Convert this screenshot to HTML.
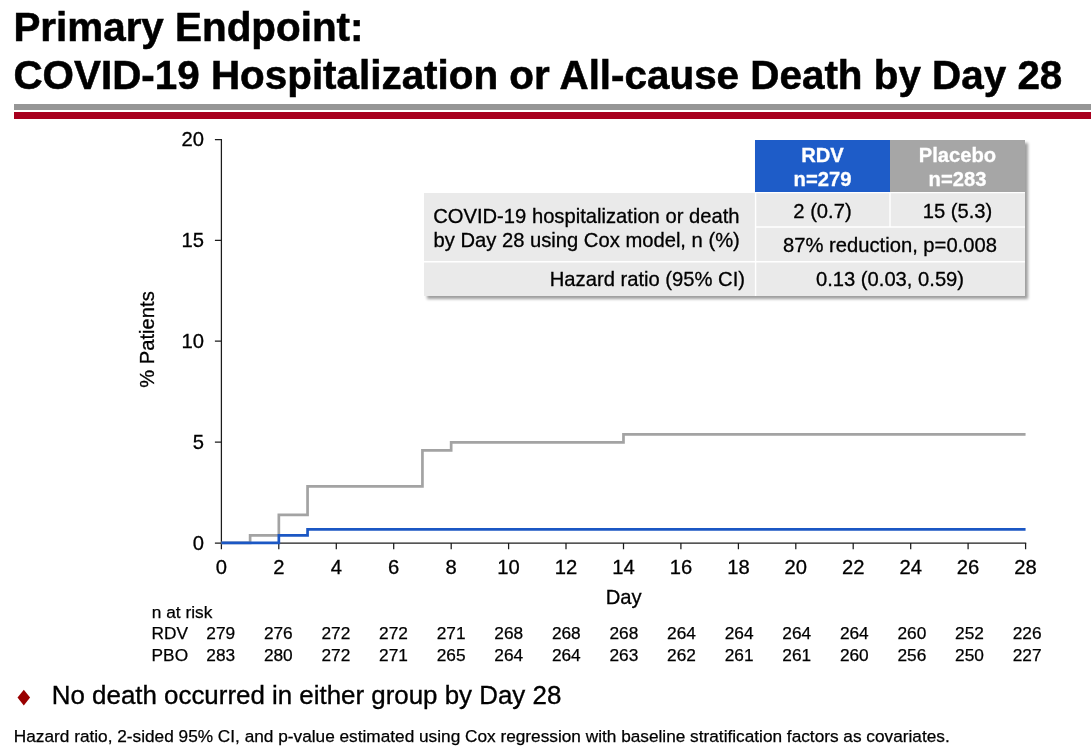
<!DOCTYPE html>
<html><head><meta charset="utf-8">
<style>
html,body{margin:0;padding:0;background:#fff;}
body{width:1091px;height:756px;position:relative;overflow:hidden;font-family:"Liberation Sans",sans-serif;color:#000;}
.abs{position:absolute;white-space:nowrap;}
#title{left:13.4px;top:2.6px;font-size:40.4px;font-weight:bold;line-height:48px;-webkit-text-stroke:0.55px #000;}
#rule1{left:14px;top:104px;width:1077px;height:6px;background:#969696;}
#rule2{left:14px;top:112px;width:1077px;height:7px;background:#a8001e;}
svg{position:absolute;left:0;top:0;}
</style></head><body>
<div id="title" class="abs">Primary Endpoint:<br>COVID-19 Hospitalization or All-cause Death by Day 28</div>
<div id="rule1" class="abs"></div><div id="rule2" class="abs"></div>

<svg width="1091" height="756" viewBox="0 0 1091 756" font-family="Liberation Sans, sans-serif">
<defs><filter id="sh" x="-5%" y="-10%" width="110%" height="125%"><feGaussianBlur stdDeviation="1.5"/></filter></defs>
<g id="table">
<path d="M757 143H1028V299H427V196H757Z" fill="#000" opacity="0.38" filter="url(#sh)"/>
<rect x="755" y="140" width="135" height="53" fill="#1e5cc8"/>
<rect x="890" y="140" width="135" height="53" fill="#a6a6a6"/>
<rect x="424" y="193" width="601" height="103" fill="#eaeaea"/>
<g stroke="#fff" stroke-width="1.4">
<line x1="755" y1="192.6" x2="1025" y2="192.6"/>
<line x1="755" y1="227" x2="1025" y2="227"/>
<line x1="424" y1="261.7" x2="1025" y2="261.7"/>
<line x1="755.6" y1="192" x2="755.6" y2="296"/>
<line x1="890" y1="193" x2="890" y2="227"/>
</g>
<g font-size="20.2" font-weight="bold" fill="#fff" stroke="#fff" stroke-width="0.3" text-anchor="middle">
<text x="822.5" y="161.9">RDV</text><text x="822.5" y="185.9">n=279</text>
<text x="957.5" y="161.9">Placebo</text><text x="957.5" y="185.9">n=283</text>
</g>
<g font-size="20.2" fill="#000" stroke="#000" stroke-width="0.3">
<text x="433.2" y="222.5">COVID-19 hospitalization or death</text>
<text x="433.5" y="247.2">by Day 28 using Cox model, n (%)</text>
<text x="745" y="286.4" text-anchor="end">Hazard ratio (95% CI)</text>
<text x="822.5" y="217.7" text-anchor="middle">2 (0.7)</text>
<text x="957.5" y="217.7" text-anchor="middle">15 (5.3)</text>
<text x="890" y="251.6" text-anchor="middle">87% reduction, p=0.008</text>
<text x="890" y="286.4" text-anchor="middle">0.13 (0.03, 0.59)</text>
</g>
</g>
<g stroke="#1c1c1c" stroke-width="1.25" fill="none">
<path d="M221.4 138.9V549.3"/><path d="M214.9 543.15H1026.2" stroke-width="1.4"/>
<path d="M214.9 442.1H221.4M214.9 341.2H221.4M214.9 240.4H221.4M214.9 139.5H221.4"/>
<path d="M278.8 543.0V549.3M336.3 543.0V549.3M393.7 543.0V549.3M451.2 543.0V549.3M508.6 543.0V549.3M566.0 543.0V549.3M623.5 543.0V549.3M680.9 543.0V549.3M738.4 543.0V549.3M795.8 543.0V549.3M853.2 543.0V549.3M910.7 543.0V549.3M968.1 543.0V549.3M1025.6 543.0V549.3"/>
</g>
<path d="M221.40 542.90L250.12 542.90L250.12 535.40L278.84 535.40L278.84 514.90L307.56 514.90L307.56 486.45L422.44 486.45L422.44 450.45L451.16 450.45L451.16 442.30L623.48 442.30L623.48 434.40L1025.56 434.40" fill="none" stroke="#a3a3a3" stroke-width="2.7"/>
<path d="M221.40 542.90L278.84 542.90L278.84 535.30L307.56 535.30L307.56 529.30L1025.56 529.30" fill="none" stroke="#1b57c4" stroke-width="2.7"/>
<g font-size="20.2" text-anchor="end" stroke="#000" stroke-width="0.3"><text x="204" y="146.2">20</text><text x="204" y="247.1">15</text><text x="204" y="348.0">10</text><text x="204" y="448.9">5</text><text x="204" y="549.8">0</text></g>
<g font-size="20.2" text-anchor="middle" stroke="#000" stroke-width="0.3"><text x="221.4" y="573.8">0</text><text x="278.8" y="573.8">2</text><text x="336.3" y="573.8">4</text><text x="393.7" y="573.8">6</text><text x="451.2" y="573.8">8</text><text x="508.6" y="573.8">10</text><text x="566.0" y="573.8">12</text><text x="623.5" y="573.8">14</text><text x="680.9" y="573.8">16</text><text x="738.4" y="573.8">18</text><text x="795.8" y="573.8">20</text><text x="853.2" y="573.8">22</text><text x="910.7" y="573.8">24</text><text x="968.1" y="573.8">26</text><text x="1025.6" y="573.8">28</text></g>
<text x="623.6" y="604.4" font-size="20.2" text-anchor="middle" stroke="#000" stroke-width="0.3">Day</text>
<text transform="translate(153.6,339.5) rotate(-90)" font-size="20.2" text-anchor="middle" stroke="#000" stroke-width="0.3">% Patients</text>
<g font-size="17.3" stroke="#000" stroke-width="0.25">
<text x="151.8" y="617.5">n at risk</text><text x="151.6" y="638.6">RDV</text><text x="151.6" y="660.6">PBO</text>
<g text-anchor="middle"><text x="220.7" y="638.6">279</text><text x="278.3" y="638.6">276</text><text x="335.9" y="638.6">272</text><text x="393.5" y="638.6">272</text><text x="451.1" y="638.6">271</text><text x="508.7" y="638.6">268</text><text x="566.3" y="638.6">268</text><text x="623.9" y="638.6">268</text><text x="681.5" y="638.6">264</text><text x="739.1" y="638.6">264</text><text x="796.7" y="638.6">264</text><text x="854.3" y="638.6">264</text><text x="911.9" y="638.6">260</text><text x="969.5" y="638.6">252</text><text x="1027.1" y="638.6">226</text><text x="220.7" y="660.6">283</text><text x="278.3" y="660.6">280</text><text x="335.9" y="660.6">272</text><text x="393.5" y="660.6">271</text><text x="451.1" y="660.6">265</text><text x="508.7" y="660.6">264</text><text x="566.3" y="660.6">264</text><text x="623.9" y="660.6">263</text><text x="681.5" y="660.6">262</text><text x="739.1" y="660.6">261</text><text x="796.7" y="660.6">261</text><text x="854.3" y="660.6">260</text><text x="911.9" y="660.6">256</text><text x="969.5" y="660.6">250</text><text x="1027.1" y="660.6">227</text></g>
</g>
<polygon points="17.5,697.6 23.8,689.8 30.1,697.6 23.8,705.4" fill="#990000"/>
</svg>

<div class="abs" style="left:51.8px;top:680.6px;font-size:25.9px;-webkit-text-stroke:0.35px #000;">No death occurred in either group by Day 28</div>
<div class="abs" style="left:13.8px;top:726.2px;font-size:17.24px;-webkit-text-stroke:0.25px #000;">Hazard ratio, 2-sided 95% CI, and p-value estimated using Cox regression with baseline stratification factors as covariates.</div>
</body></html>
